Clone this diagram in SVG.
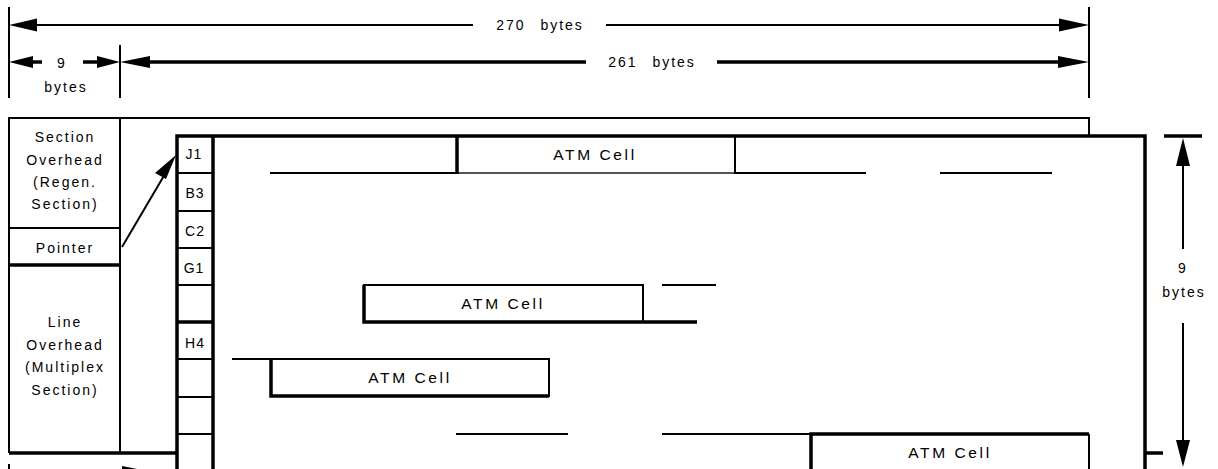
<svg xmlns="http://www.w3.org/2000/svg" width="1218" height="469" viewBox="0 0 1218 469">
<style>
text{font-family:"Liberation Sans",Arial,sans-serif;fill:#000}
.t{font-size:14px;letter-spacing:2px;text-anchor:middle}
.c{font-size:15.5px;letter-spacing:2.6px;text-anchor:middle}
.k{font-size:14px;letter-spacing:1px;text-anchor:middle}
.ln{stroke:#000;stroke-width:2;fill:none}
.th{stroke:#000;stroke-width:3.5;fill:none}
.g{stroke:#555;stroke-width:2;fill:none}
</style>
<rect width="1218" height="469" fill="#fff"/>
<g id="dimensions">
  <line class="ln" x1="9" y1="7" x2="9" y2="98"/>
  <line class="ln" x1="1089" y1="7" x2="1089" y2="98"/>
  <line class="ln" x1="120" y1="45" x2="120" y2="98"/>
  <line class="ln" x1="35" y1="25" x2="473" y2="25"/>
  <line class="ln" x1="606" y1="25" x2="1060" y2="25"/>
  <polygon points="9,25 37,18.5 37,31.5"/>
  <polygon points="1089,25 1059,18.5 1059,31.5"/>
  <text class="t" x="540" y="30" word-spacing="9">270 bytes</text>
  <line class="th" x1="30" y1="62" x2="42" y2="62"/>
  <polygon points="9,62 33,56 33,68"/>
  <line class="th" x1="83" y1="62" x2="100" y2="62"/>
  <polygon points="120,62 97,56 97,68"/>
  <polygon points="120,62 150,56 150,68"/>
  <line class="th" x1="148" y1="62" x2="586" y2="62"/>
  <line class="th" x1="717" y1="62" x2="1060" y2="62"/>
  <polygon points="1089,62 1058,56 1058,68"/>
  <text class="t" x="652" y="67" word-spacing="9">261 bytes</text>
  <text class="t" x="62" y="68">9</text>
  <text class="t" x="66" y="92">bytes</text>
  <line class="th" x1="1164" y1="136" x2="1202" y2="136"/>
  <polygon points="1183,138 1176,166 1190,166"/>
  <line class="ln" x1="1183" y1="164" x2="1183" y2="249"/>
  <line class="ln" x1="1183" y1="323" x2="1183" y2="442"/>
  <polygon points="1183,467 1176,440 1190,440"/>
  <text class="t" x="1183" y="273">9</text>
  <text class="t" x="1184" y="297">bytes</text>
  <line class="ln" x1="9" y1="464" x2="9" y2="469"/>
  <polygon points="122,466 152,472 122,478"/>
</g>
<g id="frame">
  <path class="ln" d="M9,453 V118 H1089 V136"/>
  <line class="th" x1="9" y1="453" x2="178" y2="453"/>
  <line class="th" x1="1145" y1="453" x2="1163" y2="453"/>
</g>
<g id="section-overhead">
  <line class="ln" x1="120" y1="118" x2="120" y2="453"/>
  <line class="ln" x1="9" y1="228" x2="120" y2="228"/>
  <text class="t" x="65" y="142">Section</text>
  <text class="t" x="65" y="165">Overhead</text>
  <text class="t" x="65" y="187">(Regen.</text>
  <text class="t" x="65" y="209">Section)</text>
</g>
<g id="pointer">
  <line class="th" x1="9" y1="265" x2="120" y2="265"/>
  <text class="t" x="65" y="253">Pointer</text>
</g>
<g id="line-overhead">
  <text class="t" x="65" y="327">Line</text>
  <text class="t" x="65" y="350">Overhead</text>
  <text class="t" x="65" y="372">(Multiplex</text>
  <text class="t" x="65" y="395">Section)</text>
</g>
<g id="payload">
  <path d="M177,469 V136 H1145 V469" fill="#fff" stroke="#000" stroke-width="3.5"/>
  <line class="th" x1="213" y1="136" x2="213" y2="469"/>
</g>
<g id="poh">
  <line class="ln" x1="177" y1="173" x2="213" y2="173"/>
  <line class="ln" x1="177" y1="211" x2="213" y2="211"/>
  <line class="ln" x1="177" y1="248" x2="213" y2="248"/>
  <line class="ln" x1="177" y1="285" x2="213" y2="285"/>
  <line class="th" x1="177" y1="322" x2="213" y2="322"/>
  <line class="ln" x1="177" y1="359" x2="213" y2="359"/>
  <line class="ln" x1="177" y1="397" x2="213" y2="397"/>
  <line class="ln" x1="177" y1="434" x2="213" y2="434"/>
  <text class="k" x="194" y="159">J1</text>
  <text class="k" x="195" y="198">B3</text>
  <text class="k" x="195" y="236">C2</text>
  <text class="k" x="194" y="273">G1</text>
  <text class="k" x="195" y="348">H4</text>
</g>
<g id="cell1">
  <line class="g" x1="456" y1="173" x2="735" y2="173"/>
  <line class="th" x1="457" y1="136" x2="457" y2="174"/>
  <line class="ln" x1="735" y1="136" x2="735" y2="174"/>
  <text class="c" x="595" y="160">ATM Cell</text>
</g>
<g id="cell2">
  <path class="ln" d="M363,285 H643 V322"/>
  <path class="th" d="M364,285 V322 H697"/>
  <text class="c" x="503" y="309">ATM Cell</text>
</g>
<g id="cell3">
  <path class="ln" d="M270,359 H549 V397"/>
  <path class="th" d="M271,359 V396 H549"/>
  <text class="c" x="410" y="383">ATM Cell</text>
</g>
<g id="cell4">
  <path class="th" d="M811,469 V434 H1089"/>
  <line class="ln" x1="1089" y1="434" x2="1089" y2="469"/>
  <text class="c" x="950" y="458">ATM Cell</text>
</g>
<g id="connectors">
  <line class="ln" x1="270" y1="173" x2="456" y2="173"/>
  <line class="ln" x1="735" y1="173" x2="866" y2="173"/>
  <line class="ln" x1="940" y1="173" x2="1052" y2="173"/>
  <line class="ln" x1="662" y1="285" x2="716" y2="285"/>
  <line class="ln" x1="232" y1="359" x2="270" y2="359"/>
  <line class="ln" x1="456" y1="434" x2="568" y2="434"/>
  <line class="ln" x1="662" y1="434" x2="811" y2="434"/>
  <line class="ln" x1="122" y1="247" x2="165" y2="174"/>
  <polygon points="176,155 155,173 166,179"/>
</g>
</svg>
